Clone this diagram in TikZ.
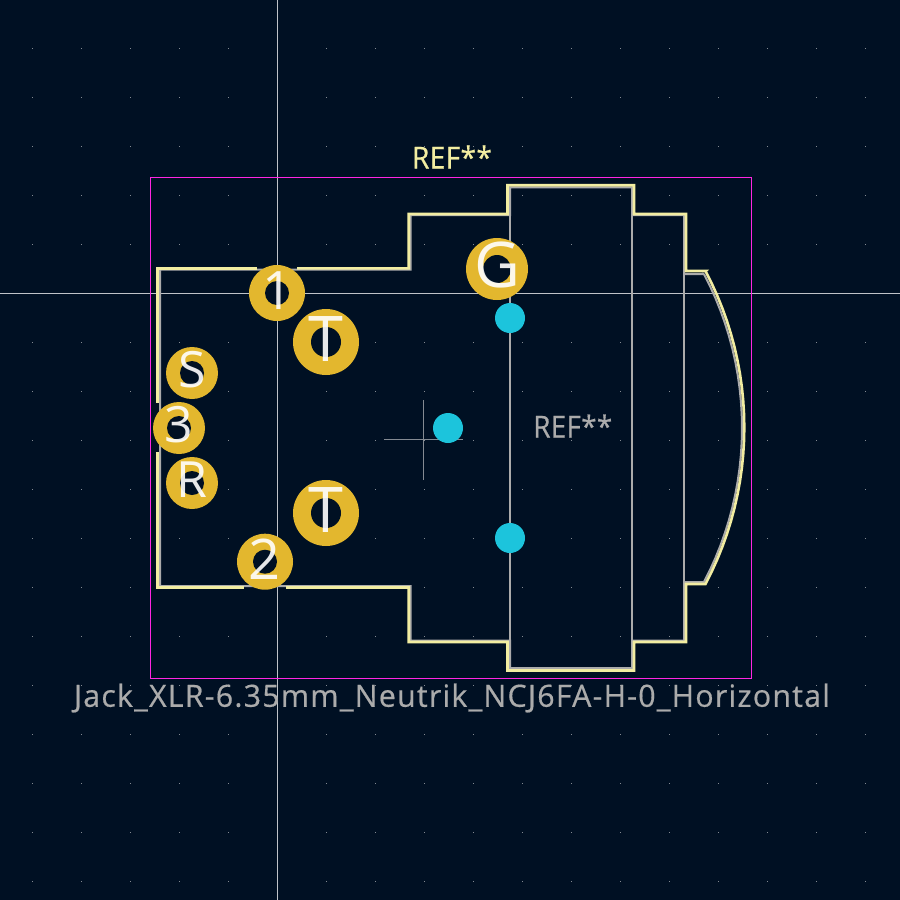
\documentclass[tikz,border=0pt]{standalone}
\usepackage{fontspec}
\setmainfont{Open Sans}
\newfontfamily\labfont[LetterSpace=4,FakeBold=0.5]{Open Sans}
\newfontfamily\reffont[LetterSpace=1,FakeBold=0.5]{Open Sans}
\definecolor{bgc}{HTML}{001023}
\definecolor{gold}{HTML}{E3B72E}
\definecolor{teal}{HTML}{1CC4DC}
\definecolor{silk}{HTML}{F2EDA1}
\definecolor{fab}{HTML}{ABABAB}
\definecolor{court}{HTML}{FF26E2}
\definecolor{cross}{HTML}{BFC3C8}
\definecolor{aux}{HTML}{848A92}
\definecolor{griddot}{HTML}{848A92}
\tikzset{
  silkline/.style={draw=silk,line width=2.6pt,line join=miter},
  fabline/.style={draw=fab,line width=2pt,line join=miter},
  padtext/.style={text=white,text opacity=0.9,font=\fontsize{#1}{#1}\selectfont,inner sep=0pt},
  labeltext/.style={text=#1,font=\reffont\fontsize{27}{27}\selectfont,inner sep=0pt},
  nametext/.style={text=#1,font=\labfont\fontsize{27}{27}\selectfont,inner sep=0pt},
}
% name, pad x, pad y, radius, hole, label, size, label x, label y
\newcommand{\padmark}[9]{%
  \fill[gold] (#2,#3) circle (#4);
  \fill[bgc] (#2,#3) circle (#5);
  \node[padtext=#7,anchor=center] (#1) at (#8,#9) {#6};
}
\begin{document}
\begin{tikzpicture}[x=1pt,y=-1pt]
\useasboundingbox (0,0) rectangle (900,900);
\fill[bgc] (0,0) rectangle (900,900);
\foreach \i in {0,...,17}{\foreach \j in {0,...,17}{
  \fill[griddot] ({32+49*\i},{48+49*\j}) rectangle ++(1,1);
}}
% crosshair
\draw[cross,line width=1pt] (277.5,0) -- (277.5,900);
\draw[cross,line width=1pt] (0,293.5) -- (900,293.5);
% courtyard
\draw[court,line width=1pt] (150.5,177.5) rectangle (751.5,678.5);
% anchor cross
\draw[aux,line width=1pt] (384,439.5) -- (463,439.5);
\draw[aux,line width=1pt] (423.5,400) -- (423.5,480);
% fab
\draw[fabline] (160,269.7) -- (410.7,269.7) -- (410.7,215) -- (510,215) -- (510,187.3) -- (632,187.3) -- (632,215) -- (684,215) -- (684,274) -- (704,274)
  -- plot[domain=-27.73:27.73,samples=25] ({411+331*cos(\x)},{428+331*sin(\x)})
  -- (684,582) -- (684,640.5) -- (632,640.5) -- (632,668) -- (510,668) -- (510,640.5) -- (410.7,640.5) -- (410.7,586) -- (160,586) -- cycle;
\draw[fabline] (510,187.3) -- (510,668);
\draw[fabline] (632,187.3) -- (632,668);
\draw[fabline] (684,215) -- (684,640.5);
% silk
\draw[silkline] (157.7,403) -- (157.7,268.3) -- (256.7,268.3);
\draw[silkline] (297,268.3) -- (408.7,268.3) -- (408.7,214) -- (507.5,214) -- (507.5,185.2) -- (634,185.2) -- (634,214) -- (686,214) -- (686,271) -- (705.5,271)
  -- plot[domain=-27.85:27.85,samples=25] ({409.3+335*cos(\x)},{427.5+335*sin(\x)})
  -- (686,584) -- (686,642) -- (634,642) -- (634,670.5) -- (507.5,670.5) -- (507.5,642) -- (408.7,642) -- (408.7,587.5) -- (286,587.5);
\draw[silkline] (243.7,587.5) -- (157.7,587.5) -- (157.7,451.7);
% pads
\padmark{p1}{277}{293}{28}{12}{1}{53}{278}{291}
\padmark{pT}{326}{342}{33}{15}{T}{63}{326}{339.2}
\padmark{pS}{192}{373}{26}{12}{S}{50}{192}{370}
\padmark{p3}{179}{428}{26}{12}{3}{50}{179}{425}
\padmark{pR}{192}{483}{26}{12}{R}{50}{192}{480}
\padmark{pTb}{326}{513}{33}{15}{T}{63}{326}{510}
\padmark{p2}{265}{561.7}{28}{12}{2}{56}{265}{559}
\padmark{pG}{497}{269}{31}{14}{G}{63}{497}{265}
\fill[teal] (448,428) circle (15);
\fill[teal] (510,318) circle (15);
\fill[teal] (510,538) circle (15);
% labels
\node[labeltext=silk] (ref) at (452,157) {\resizebox*{80pt}{23pt}{REF**}};
\node[labeltext=fab] (val) at (572.8,426) {\resizebox*{79pt}{23pt}{REF**}};
\node[nametext=fab] (name) at (452,698) {\resizebox*{756pt}{29pt}{Jack\_XLR-6.35mm\_Neutrik\_NCJ6FA-H-0\_Horizontal}};
\end{tikzpicture}
\end{document}
